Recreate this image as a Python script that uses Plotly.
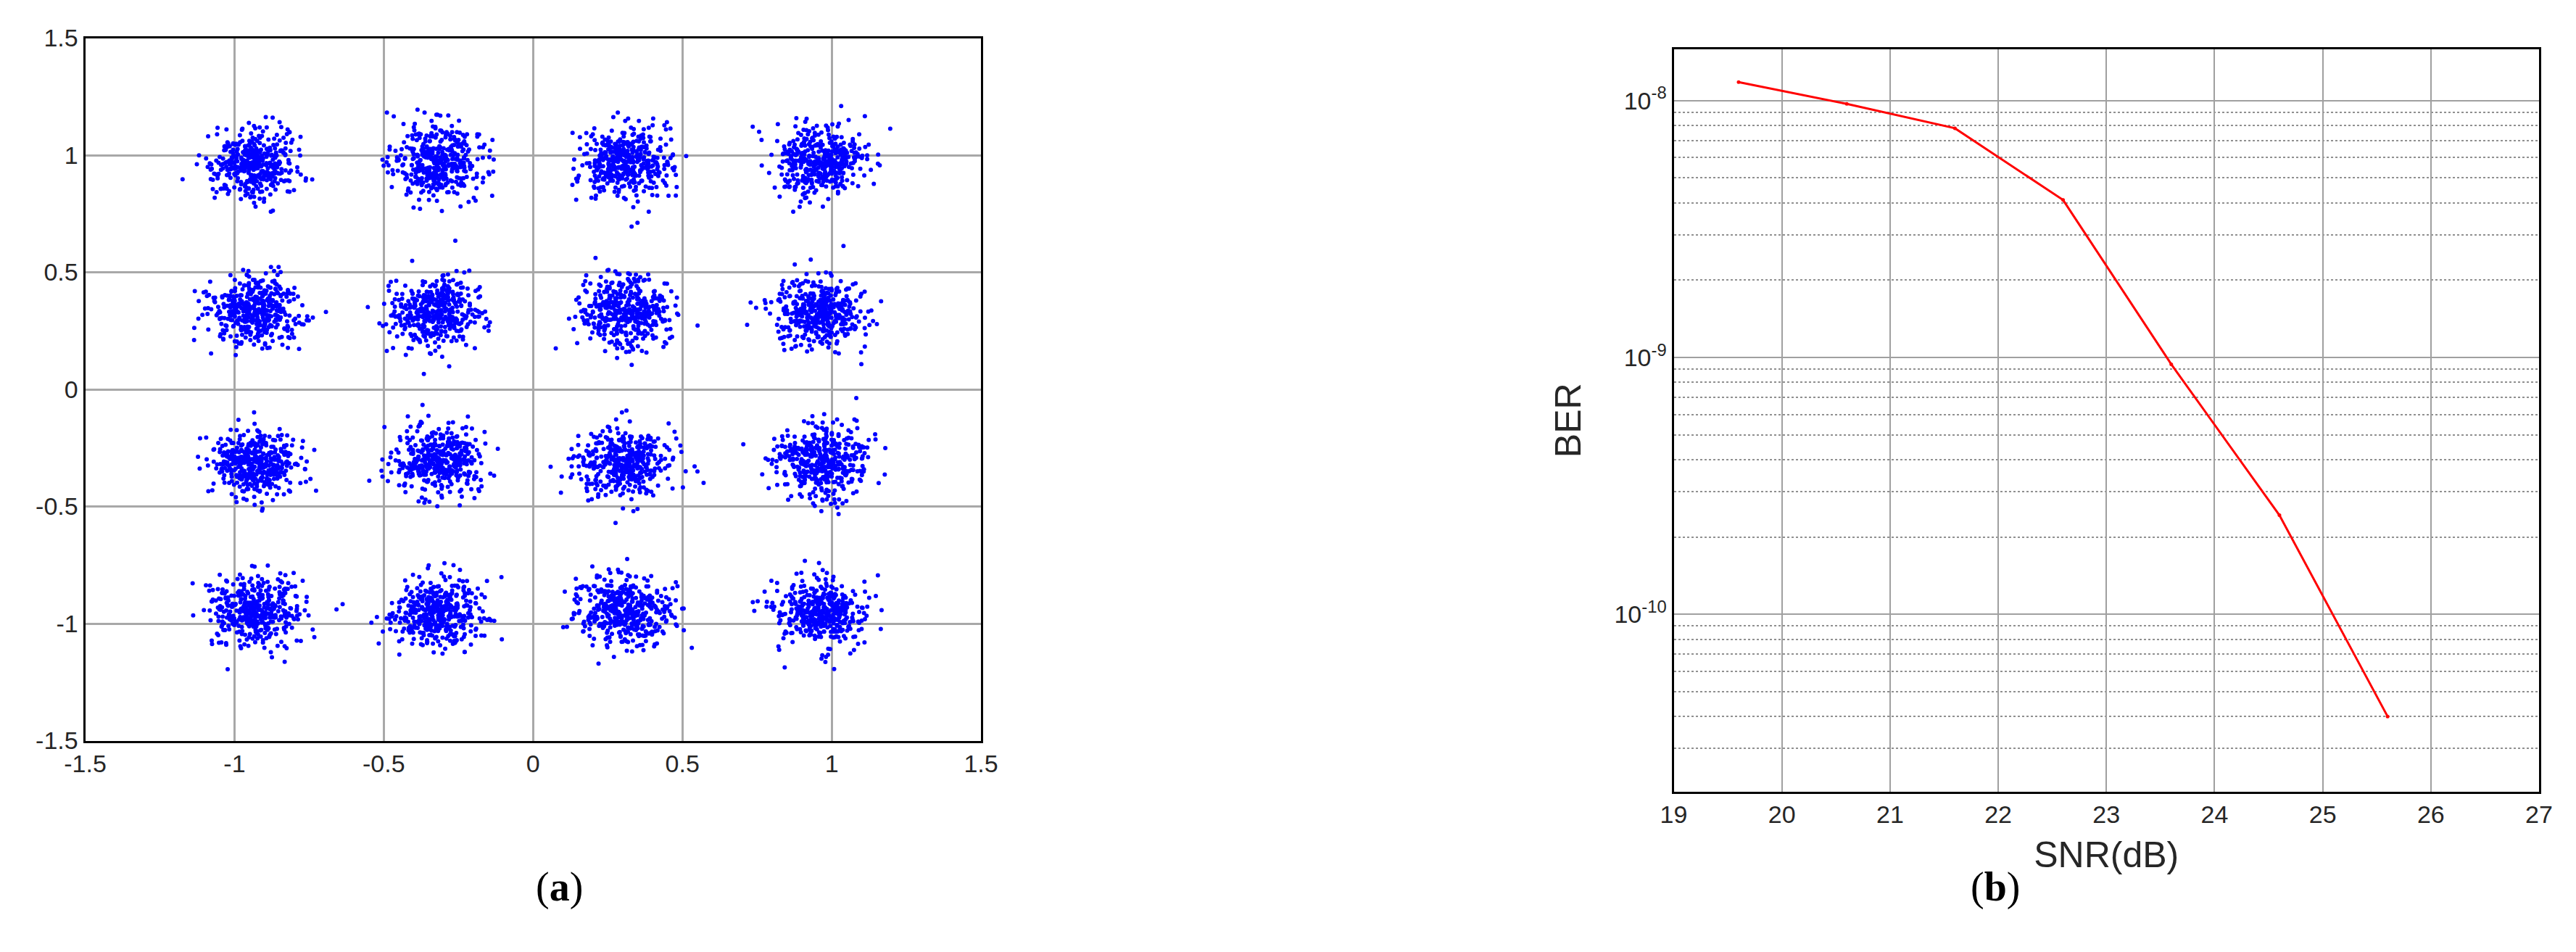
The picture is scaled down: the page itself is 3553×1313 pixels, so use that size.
import numpy as np
import plotly.graph_objects as go

# (a) 16-QAM constellation: cluster centres
centre_i = [-0.93, -0.32, 0.31, 0.96]
centre_q = [0.97, 0.33, -0.31, -0.95]
points_per_cluster = 420
noise_sigma = 0.075

# (b) BER curve
snr_db = [19.6, 20.6, 21.6, 22.6, 23.6, 24.6, 25.6]
ber = [1.18e-8, 9.7e-9, 7.8e-9, 4.1e-9, 9.4e-10, 2.43e-10, 4.0e-11]

ticks_a = [-1.5, -1, -0.5, 0, 0.5, 1, 1.5]
ticks_a_text = ["-1.5", "-1", "-0.5", "0", "0.5", "1", "1.5"]
ber_ticks = [1e-8, 1e-9, 1e-10]
ber_ticks_text = ["10<sup>-8</sup>", "10<sup>-9</sup>", "10<sup>-10</sup>"]

# received samples cannot be read point by point, so a fixed-seed noise
# cloud stands in for them around each read centre
rng = np.random.default_rng(7)
xs, ys = [], []
for q in centre_q:
    for i in centre_i:
        xs.append(i + rng.normal(0, noise_sigma, points_per_cluster))
        ys.append(q + rng.normal(0, noise_sigma, points_per_cluster))
xs = np.concatenate(xs)
ys = np.concatenate(ys)

fig = go.Figure()
fig.add_trace(go.Scatter(x=xs, y=ys, mode='markers',
                         marker=dict(color='blue', size=6),
                         xaxis='x', yaxis='y', showlegend=False))
fig.add_trace(go.Scatter(x=snr_db, y=ber, mode='lines+markers',
                         line=dict(color='red', width=3),
                         marker=dict(color='red', size=5),
                         xaxis='x2', yaxis='y2', showlegend=False))

tick_font = dict(family="Liberation Sans, Arial", size=34, color='#262626')
title_font = dict(family="Liberation Sans, Arial", size=50, color='#262626')
axis_common = dict(showline=True, mirror=True, linecolor='black', linewidth=3,
                   ticks='', zeroline=False, tickfont=tick_font)

fig.update_layout(
    width=3553, height=1313,
    margin=dict(l=0, r=0, t=0, b=0),
    paper_bgcolor='white', plot_bgcolor='white',
    xaxis=dict(domain=[0.023, 0.376], range=[-1.5, 1.5], tickvals=ticks_a,
               ticktext=ticks_a_text, showgrid=True, gridcolor='#a8a8a8',
               gridwidth=2.5, **axis_common),
    yaxis=dict(domain=[0.22, 0.98], range=[-1.5, 1.5], tickvals=ticks_a,
               ticktext=ticks_a_text, showgrid=True, gridcolor='#a8a8a8',
               gridwidth=2.5, **axis_common),
    xaxis2=dict(domain=[0.649, 0.990], range=[19, 27], dtick=1, anchor='y2',
                showgrid=True, gridcolor='#a0a0a0', gridwidth=2,
                title=dict(text='SNR(dB)', font=title_font, standoff=20),
                **axis_common),
    yaxis2=dict(domain=[0.165, 0.968], type='log', range=[-10.69, -7.80],
                anchor='x2', tickvals=ber_ticks, ticktext=ber_ticks_text,
                showgrid=True, gridcolor='#a0a0a0', gridwidth=2,
                minor=dict(dtick='D1', showgrid=True, griddash='dot',
                           gridcolor='#909090', gridwidth=2),
                title=dict(text='BER', font=title_font, standoff=30),
                **axis_common),
    annotations=[
        dict(text='(<b>a</b>)', x=0.2, y=0.035, xref='paper', yref='paper',
             showarrow=False, font=dict(family="Liberation Serif", size=56, color='black')),
        dict(text='(<b>b</b>)', x=0.786, y=0.035, xref='paper', yref='paper',
             showarrow=False, font=dict(family="Liberation Serif", size=56, color='black')),
    ],
)

fig.write_html("out.html")
